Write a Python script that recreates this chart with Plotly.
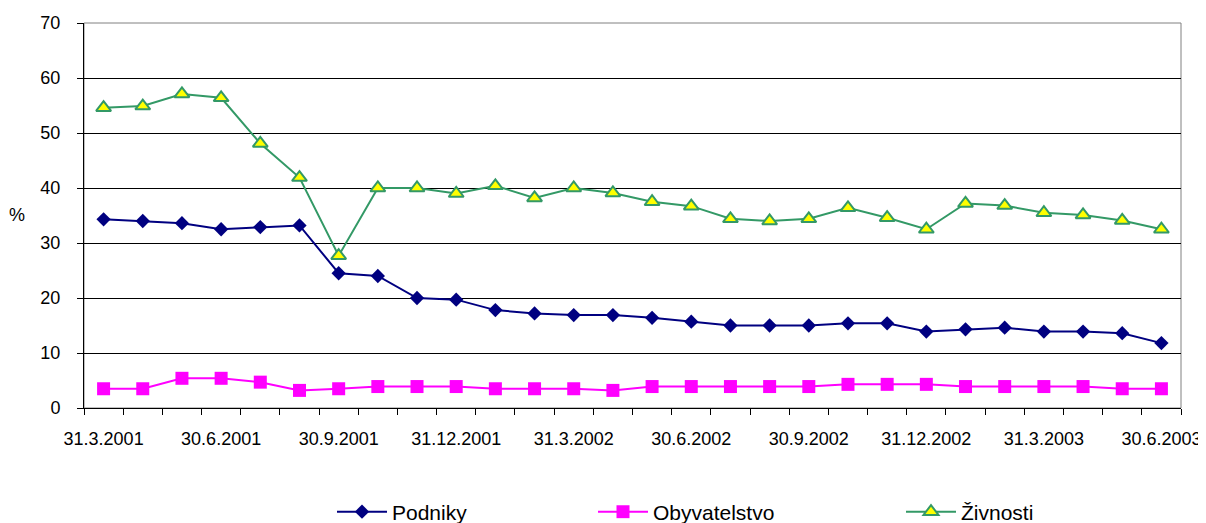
import plotly.graph_objects as go

# Monthly observations, March 2001 .. June 2003 (28 points)
months = list(range(1, 29))
tick_positions = [1, 4, 7, 10, 13, 16, 19, 22, 25, 28]
tick_labels = ["31.3.2001", "30.6.2001", "30.9.2001", "31.12.2001", "31.3.2002",
               "30.6.2002", "30.9.2002", "31.12.2002", "31.3.2003", "30.6.2003"]

podniky = [34.3, 34.0, 33.6, 32.5, 32.9, 33.2, 24.5, 24.0, 20.0, 19.7,
           17.8, 17.2, 16.9, 16.9, 16.4, 15.7, 15.0, 15.0, 15.0, 15.4,
           15.4, 13.9, 14.3, 14.6, 13.9, 13.9, 13.6, 11.8]
obyvatelstvo = [3.5, 3.5, 5.4, 5.4, 4.7, 3.2, 3.5, 3.9, 3.9, 3.9,
                3.5, 3.5, 3.5, 3.2, 3.9, 3.9, 3.9, 3.9, 3.9, 4.3,
                4.3, 4.3, 3.9, 3.9, 3.9, 3.9, 3.5, 3.5]
zivnosti = [54.6, 54.9, 57.1, 56.4, 48.1, 41.9, 27.7, 40.0, 40.0, 39.0,
            40.4, 38.2, 40.0, 39.1, 37.5, 36.7, 34.4, 34.0, 34.4, 36.4,
            34.6, 32.5, 37.2, 36.8, 35.5, 35.1, 34.1, 32.5]

FONT = "Liberation Sans, Arial, sans-serif"

fig = go.Figure()
fig.add_trace(go.Scatter(
    x=months, y=podniky, name="Podniky", mode="lines+markers",
    line=dict(color="#000080", width=2),
    marker=dict(symbol="diamond", size=11, color="#000080"),
    legend="legend"))
fig.add_trace(go.Scatter(
    x=months, y=obyvatelstvo, name="Obyvatelstvo", mode="lines+markers",
    line=dict(color="#FF00FF", width=2),
    marker=dict(symbol="square", size=13, color="#FF00FF"),
    legend="legend2"))
fig.add_trace(go.Scatter(
    x=months, y=zivnosti, name="Živnosti", mode="lines+markers",
    line=dict(color="#339966", width=2),
    marker=dict(symbol="triangle-up", size=13, color="#FFFF00",
                line=dict(color="#339966", width=2)),
    legend="legend3"))

# page body has an 8px margin: figure sits at (8, 8) in the window
OFF = 8
W, H = 1198, 515
# plot area in window pixels: x 84..1181, y 23..408
L, T = 84 - OFF, 23 - OFF
R = W - (1181 - OFF)
B = H - (408 - OFF)
pw = 1181 - 84
ph = 408 - 23

def px_x(p):
    return (p - 84) / pw

def px_y(p):
    return (408 - p) / ph

legend_common = dict(orientation="h", yanchor="middle", xanchor="left",
                     font=dict(family=FONT, size=21, color="black"),
                     bgcolor="rgba(0,0,0,0)", borderwidth=0, itemwidth=50)

fig.update_layout(
    width=W, height=H,
    margin=dict(l=L, r=R, t=T, b=B, autoexpand=False),
    paper_bgcolor="white", plot_bgcolor="white",
    font=dict(family=FONT, size=18, color="black"),
    showlegend=True,
    legend=dict(x=px_x(332), y=px_y(512), **legend_common),
    legend2=dict(x=px_x(593), y=px_y(512), **legend_common),
    legend3=dict(x=px_x(901), y=px_y(512), **legend_common),
    xaxis=dict(
        range=[0.5, 28.5], tickmode="array", tickvals=tick_positions,
        ticktext=tick_labels, ticks="", showgrid=False, zeroline=False,
        showline=True, linecolor="black", linewidth=1, automargin=False,
        tickfont=dict(family=FONT, size=18, color="black"),
        ticklabelstandoff=14,
        minor=dict(tickvals=[i + 0.5 for i in range(29)], ticks="outside",
                   ticklen=6, tickcolor="black", tickwidth=1, showgrid=False),
    ),
    yaxis=dict(
        range=[0, 70], tickmode="linear", tick0=0, dtick=10,
        ticks="outside", ticklen=6, tickcolor="black",
        showgrid=True, gridcolor="black", gridwidth=1, zeroline=False,
        showline=True, linecolor="black", linewidth=1, automargin=False,
        tickfont=dict(family=FONT, size=18, color="black"),
        ticklabelstandoff=13,
    ),
    shapes=[dict(type="rect", xref="paper", yref="paper", x0=0, x1=1, y0=0, y1=1,
                 line=dict(color="#808080", width=1), layer="below")],
    annotations=[dict(text="%", xref="paper", yref="paper", x=px_x(17), y=px_y(215),
                      xanchor="center", yanchor="middle", showarrow=False,
                      font=dict(family=FONT, size=18, color="black"))],
)

fig.write_html("out.html")
